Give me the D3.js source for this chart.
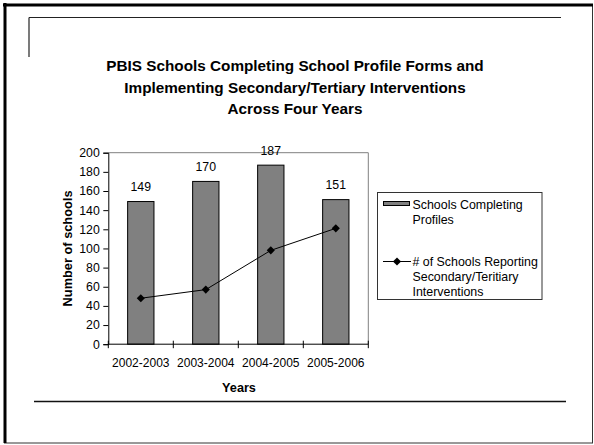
<!DOCTYPE html>
<html><head><meta charset="utf-8">
<script src="https://cdn.jsdelivr.net/npm/d3@7"></script>
<style>html,body{margin:0;padding:0;background:#fff;}svg{display:block;font-family:"Liberation Sans",Arial,sans-serif;}</style>
</head><body>
<svg id="c" width="594" height="445"></svg>
<script>
const categories = ["2002-2003","2003-2004","2004-2005","2005-2006"];
const profiles = [149,170,187,151];
const interventions = [48,57,98,121];
const yTicks = [0,20,40,60,80,100,120,140,160,180,200];
const titleLines = ["PBIS Schools Completing School Profile Forms and","Implementing Secondary/Tertiary Interventions","Across Four Years"];
const legendLabels = [["Schools Completing","Profiles"],["# of Schools Reporting","Secondary/Teritiary","Interventions"]];

const FF = "Liberation Sans, Arial, sans-serif";
const svg = d3.select("#c");
// slide frame
svg.append("rect").attr("x",4.5).attr("y",4.5).attr("width",588).attr("height",438.5).attr("fill","none").attr("stroke","#333").attr("stroke-width",1);
svg.append("line").attr("x1",5).attr("x2",5).attr("y1",3).attr("y2",443).attr("stroke","#000").attr("stroke-width",3);
svg.append("line").attr("x1",3).attr("x2",593).attr("y1",5).attr("y2",5).attr("stroke","#000").attr("stroke-width",3);
// inner decorative lines
svg.append("line").attr("x1",29).attr("x2",561).attr("y1",17.5).attr("y2",17.5).attr("stroke","#222").attr("stroke-width",1.2);
svg.append("line").attr("x1",29).attr("x2",29).attr("y1",17.5).attr("y2",57).attr("stroke","#222").attr("stroke-width",1.2);
svg.append("line").attr("x1",34).attr("x2",566).attr("y1",401.5).attr("y2",401.5).attr("stroke","#111").attr("stroke-width",1.3);

// title
svg.append("g").selectAll("text").data(titleLines).join("text")
  .attr("x",295).attr("y",(d,i)=>71+i*21.6).attr("text-anchor","middle")
  .attr("font-size",15.3).attr("font-weight","bold").attr("fill","#000").text(d=>d);

const x0 = 108.3, x1 = 368.3, yTop = 152.7, yBot = 344.2;
const x = d3.scaleBand().domain(categories).range([x0,x1]).paddingInner(0).paddingOuter(0);
const y = d3.scaleLinear().domain([0,200]).range([yBot,yTop]);

// plot area border (gray top/right)
svg.append("path").attr("d",`M${x0},${yTop}H${x1}V${yBot}`).attr("fill","none").attr("stroke","#808080").attr("stroke-width",1);

// bars
const bw = x.bandwidth()*0.405;
svg.append("g").selectAll("rect").data(profiles).join("rect")
  .attr("x",(d,i)=>x(categories[i])+x.bandwidth()/2-bw/2)
  .attr("y",d=>y(d)).attr("width",bw).attr("height",d=>yBot-y(d))
  .attr("fill","#808080").attr("stroke","#000").attr("stroke-width",1);

// bar labels
svg.append("g").selectAll("text").data(profiles).join("text")
  .attr("x",(d,i)=>x(categories[i])+x.bandwidth()/2)
  .attr("y",d=>y(d)-10.3).attr("text-anchor","middle").attr("font-size",12.3).attr("fill","#000").text(d=>d);

// y axis
const yAxis = d3.axisLeft(y).tickValues(yTicks).tickSize(5).tickPadding(3.5);
const gy = svg.append("g").attr("transform",`translate(${x0},0)`).call(yAxis);
gy.attr("font-family",FF).attr("font-size",12.3);
gy.select(".domain").attr("stroke","#000");
gy.selectAll(".tick line").attr("stroke","#000");
gy.selectAll("text").attr("fill","#000");

// x axis
const gx = svg.append("g").attr("transform",`translate(0,${yBot})`);
gx.append("line").attr("x1",x0).attr("x2",x1).attr("stroke","#000");
const bounds = categories.map(c=>x(c)).concat([x1]);
gx.selectAll("line.t").data(bounds).join("line").attr("class","t")
  .attr("x1",d=>d).attr("x2",d=>d).attr("y1",-3.5).attr("y2",4).attr("stroke","#000");
gx.selectAll("text").data(categories).join("text")
  .attr("x",d=>x(d)+x.bandwidth()/2).attr("y",23).attr("text-anchor","middle")
  .attr("font-size",12).attr("fill","#000").text(d=>d);

// line series
const pts = interventions.map((v,i)=>[x(categories[i])+x.bandwidth()/2, y(v)]);
svg.append("path").attr("d",d3.line()(pts)).attr("fill","none").attr("stroke","#000").attr("stroke-width",1);
const diamond = d3.symbol().type(d3.symbolDiamond2 || d3.symbolDiamond).size(42);
svg.append("g").selectAll("path").data(pts).join("path")
  .attr("transform",d=>`translate(${d[0]},${d[1]})`).attr("d",diamond()).attr("fill","#000");

// axis titles
svg.append("text").attr("x",239).attr("y",392).attr("text-anchor","middle").attr("font-size",12.7).attr("font-weight","bold").text("Years");
svg.append("text").attr("transform",`translate(72.3,${(yTop+yBot)/2}) rotate(-90)`).attr("text-anchor","middle")
  .attr("font-size",12.8).attr("font-weight","bold").text("Number of schools");

// legend
const lg = svg.append("g");
lg.append("rect").attr("x",377.5).attr("y",192.5).attr("width",164.5).attr("height",107).attr("fill","#fff").attr("stroke","#333").attr("stroke-width",1);
lg.append("rect").attr("x",383.5).attr("y",201.5).attr("width",26).attr("height",4).attr("fill","#808080").attr("stroke","#000").attr("stroke-width",1);
lg.append("line").attr("x1",383).attr("x2",411).attr("y1",261.5).attr("y2",261.5).attr("stroke","#000");
lg.append("path").attr("transform","translate(397,261.5)").attr("d",diamond()).attr("fill","#000");
const lstarts = [209, 265.5];
legendLabels.forEach((lines,k)=>{
  lg.append("g").selectAll("text").data(lines).join("text")
    .attr("x",412.5).attr("y",(d,i)=>lstarts[k]+i*15.3).attr("font-size",12.4).attr("fill","#000").text(d=>d);
});
</script>
</body></html>
